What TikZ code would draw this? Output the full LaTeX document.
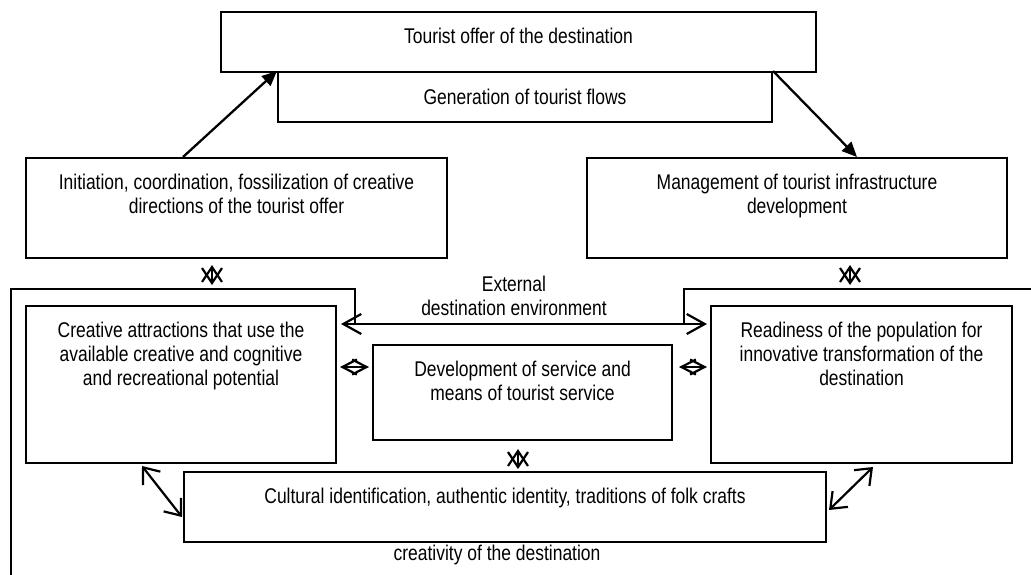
\documentclass[tikz,border=0pt]{standalone}
\usepackage{fontspec}
\setmainfont{Liberation Sans}[FakeStretch=0.82]
\usetikzlibrary{arrows.meta,calc}
\begin{document}
\begin{tikzpicture}[x=1pt,y=-1pt,
  txt/.style={font=\fontsize{21.3}{24}\selectfont, align=center, inner sep=0pt},
  box/.style={draw, line width=2pt, rectangle, inner sep=0pt, anchor=north west, txt},
  boxtxt/.style={label={[txt, anchor=north, yshift=-17pt]north:{#1}}},
  ln/.style={line width=2pt},
  fillarrow/.style={line width=2.3pt, -{Triangle[length=15pt,width=13pt]}},
  smallarr/.style={line width=2.2pt, {Straight Barb[length=15pt,width=20pt]}-{Straight Barb[length=15pt,width=20pt]}},
  diamarr/.style={line width=2.2pt, {Straight Barb[length=14.5pt,width=15pt]}-{Straight Barb[length=14.5pt,width=15pt]}},
  dblarr/.style={line width=2.2pt, {Straight Barb[length=14pt,width=22pt]}-{Straight Barb[length=14pt,width=22pt]}},
  extarr/.style={line width=2.2pt, {Straight Barb[length=18pt,width=20pt]}-{Straight Barb[length=18pt,width=20pt]}}
]
\useasboundingbox (0,0) rectangle (1031,574);

% boxes
\node[box, minimum width=595pt, minimum height=60pt, boxtxt={Tourist offer of the destination}] (offer) at (220,11) {};
\node[box, minimum width=494pt, minimum height=50pt] (flows) at (277,71) {Generation of tourist flows};
\node[box, minimum width=421pt, minimum height=100pt, boxtxt={Initiation, coordination, fossilization of creative\\directions of the tourist offer}] (init) at (25,157) {};
\node[box, minimum width=420pt, minimum height=100pt, boxtxt={Management of tourist infrastructure\\development}] (mgmt) at (586,157) {};
\node[box, minimum width=310pt, minimum height=157pt, boxtxt={Creative attractions that use the\\available creative and cognitive\\and recreational potential}] (creat) at (25,305) {};
\node[box, minimum width=301pt, minimum height=157pt, boxtxt={Readiness of the population for\\innovative transformation of the\\destination}] (ready) at (710,305) {};
\node[box, minimum width=299pt, minimum height=95pt, boxtxt={Development of service and\\means of tourist service}] (serv) at (372,344) {};
\node[box, minimum width=642pt, minimum height=70pt, boxtxt={Cultural identification, authentic identity, traditions of folk crafts}] (cult) at (183,471) {};

% free texts
\node[txt] (ext) at (514,296) {External\\destination environment};
\node[txt] (crea) at (497,555) {creativity of the destination};

% bracket lines of the external environment
\coordinate (lbot) at (11,576);
\coordinate (ltop) at (355,289);
\coordinate (lend) at (355,324);
\coordinate (rout) at (1033,289);
\coordinate (rtop) at (684,289);
\coordinate (rend) at (684,324);
\draw[ln] (lbot) |- (ltop) -- (lend);
\draw[ln] (rout) -- (rtop) -- (rend);

% main arrows
\draw[fillarrow] ($(init.north west)+(158,0)$) -- (flows.north west);
\draw[fillarrow] (flows.north east) -- ($(mgmt.north west)+(271,0)$);

% external environment arrow
\draw[extarr] ($(creat.north east)+(4,19)$) -- ($(ready.north west)+(-3,19)$);

% small vertical double arrows
\draw[smallarr] ($(init.south west)+(187,6)$) -- ($(init.south west)+(187,26)$);
\draw[smallarr] ($(mgmt.south west)+(264,6)$) -- ($(mgmt.south west)+(264,26)$);
\draw[smallarr] ($(serv.south west)+(146,8)$) -- ($(serv.south west)+(146,28)$);

% diamond arrows
\draw[diamarr] ($(creat.north east)+(3,62)$) -- ($(serv.north west)+(-3,23)$);
\draw[diamarr] ($(serv.north east)+(6,23)$) -- ($(ready.north west)+(-3,62)$);

% diagonal double arrows
\draw[dblarr] ($(creat.south west)+(117,2)$) -- ($(cult.north west)+(-1,46)$);
\draw[dblarr] ($(cult.north east)+(2,39)$) -- ($(ready.south west)+(163,3)$);
\end{tikzpicture}
\end{document}
